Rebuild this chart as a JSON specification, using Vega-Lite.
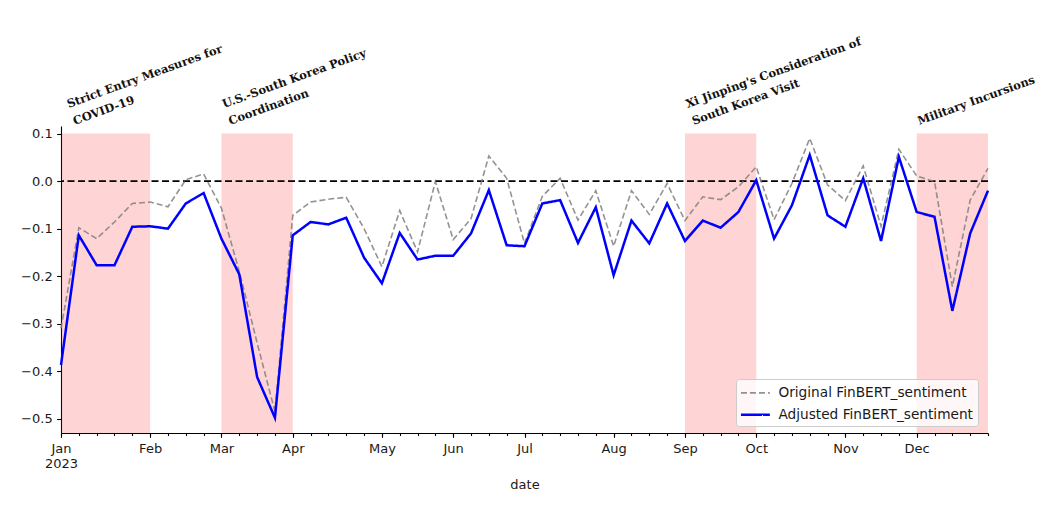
{
  "$schema": "https://vega.github.io/schema/vega-lite/v6.json",
  "width": 927,
  "height": 307,
  "autosize": {"type": "none"},
  "padding": {"left": 61, "top": 126, "right": 60, "bottom": 74},
  "background": "white",
  "config": {
    "view": {"stroke": null},
    "font": "DejaVu Sans",
    "axis": {
      "labelFont": "DejaVu Sans", "labelFontSize": 13, "labelColor": "#1a1a1a",
      "titleFont": "DejaVu Sans", "titleFontSize": 13, "titleFontWeight": "normal", "titleColor": "#1a1a1a",
      "domainColor": "#000000", "tickColor": "#000000", "domainWidth": 1.1, "tickWidth": 1.1, "grid": false
    }
  },
  "datasets": {
    "series": [
      {"date": "2023-01-01", "original": -0.31, "adjusted": -0.387},
      {"date": "2023-01-08", "original": -0.098, "adjusted": -0.114},
      {"date": "2023-01-15", "original": -0.121, "adjusted": -0.177},
      {"date": "2023-01-22", "original": -0.086, "adjusted": -0.177},
      {"date": "2023-01-29", "original": -0.047, "adjusted": -0.096},
      {"date": "2023-02-05", "original": -0.044, "adjusted": -0.095},
      {"date": "2023-02-12", "original": -0.054, "adjusted": -0.1},
      {"date": "2023-02-19", "original": 0.003, "adjusted": -0.047},
      {"date": "2023-02-26", "original": 0.015, "adjusted": -0.025},
      {"date": "2023-03-05", "original": -0.057, "adjusted": -0.121},
      {"date": "2023-03-12", "original": -0.19, "adjusted": -0.196},
      {"date": "2023-03-19", "original": -0.34, "adjusted": -0.412},
      {"date": "2023-03-26", "original": -0.485, "adjusted": -0.498},
      {"date": "2023-04-02", "original": -0.072, "adjusted": -0.114},
      {"date": "2023-04-09", "original": -0.044, "adjusted": -0.086},
      {"date": "2023-04-16", "original": -0.038, "adjusted": -0.091},
      {"date": "2023-04-23", "original": -0.034, "adjusted": -0.077},
      {"date": "2023-04-30", "original": -0.1, "adjusted": -0.161},
      {"date": "2023-05-07", "original": -0.18, "adjusted": -0.215},
      {"date": "2023-05-14", "original": -0.062, "adjusted": -0.109},
      {"date": "2023-05-21", "original": -0.149, "adjusted": -0.165},
      {"date": "2023-05-28", "original": -0.001, "adjusted": -0.157},
      {"date": "2023-06-04", "original": -0.123, "adjusted": -0.157},
      {"date": "2023-06-11", "original": -0.079, "adjusted": -0.11},
      {"date": "2023-06-18", "original": 0.053, "adjusted": -0.019},
      {"date": "2023-06-25", "original": 0.006, "adjusted": -0.135},
      {"date": "2023-07-02", "original": -0.131, "adjusted": -0.137},
      {"date": "2023-07-09", "original": -0.032, "adjusted": -0.047},
      {"date": "2023-07-16", "original": 0.006, "adjusted": -0.04},
      {"date": "2023-07-23", "original": -0.082, "adjusted": -0.13},
      {"date": "2023-07-30", "original": -0.02, "adjusted": -0.055},
      {"date": "2023-08-06", "original": -0.137, "adjusted": -0.198},
      {"date": "2023-08-13", "original": -0.02, "adjusted": -0.083},
      {"date": "2023-08-20", "original": -0.07, "adjusted": -0.131},
      {"date": "2023-08-27", "original": -0.005, "adjusted": -0.047},
      {"date": "2023-09-03", "original": -0.083, "adjusted": -0.126},
      {"date": "2023-09-10", "original": -0.033, "adjusted": -0.083},
      {"date": "2023-09-17", "original": -0.039, "adjusted": -0.098},
      {"date": "2023-09-24", "original": -0.012, "adjusted": -0.065},
      {"date": "2023-10-01", "original": 0.03, "adjusted": 0.002},
      {"date": "2023-10-08", "original": -0.081, "adjusted": -0.121},
      {"date": "2023-10-15", "original": -0.005, "adjusted": -0.051},
      {"date": "2023-10-22", "original": 0.09, "adjusted": 0.055},
      {"date": "2023-10-29", "original": -0.008, "adjusted": -0.072},
      {"date": "2023-11-05", "original": -0.041, "adjusted": -0.096},
      {"date": "2023-11-12", "original": 0.032, "adjusted": 0.006},
      {"date": "2023-11-19", "original": -0.095, "adjusted": -0.126},
      {"date": "2023-11-26", "original": 0.067, "adjusted": 0.051},
      {"date": "2023-12-03", "original": 0.011, "adjusted": -0.065},
      {"date": "2023-12-10", "original": -0.001, "adjusted": -0.075},
      {"date": "2023-12-17", "original": -0.222, "adjusted": -0.273},
      {"date": "2023-12-24", "original": -0.04, "adjusted": -0.11},
      {"date": "2023-12-31", "original": 0.027, "adjusted": -0.02}
    ],
    "events": [
      {"start": "2023-01-01", "end": "2023-02-05", "label_date": "2023-01-04", "line1": "Strict Entry Measures for", "line2": "COVID-19"},
      {"start": "2023-03-05", "end": "2023-04-02", "label_date": "2023-03-06", "line1": "U.S.-South Korea Policy", "line2": "Coordination"},
      {"start": "2023-09-03", "end": "2023-10-01", "label_date": "2023-09-04", "line1": "Xi Jinping's Consideration of", "line2": "South Korea Visit"},
      {"start": "2023-12-03", "end": "2023-12-31", "label_date": "2023-12-04", "line1": "Military Incursions", "line2": null}
    ]
  },
  "layer": [
    {
      "data": {"name": "events"},
      "mark": {"type": "rect", "color": "#ff0000", "opacity": 0.17},
      "encoding": {
        "x": {
          "field": "start", "type": "temporal",
          "scale": {"type": "utc", "domain": [{"year": 2023, "month": 1, "date": 1, "utc": true}, {"year": 2023, "month": 12, "date": 31, "utc": true}], "nice": false},
          "axis": {"orient": "bottom", "tickCount": {"interval": "week", "step": 1}, "labels": false, "domain": false, "tickSize": 2.5, "title": null, "grid": false}
        },
        "x2": {"field": "end"},
        "y": {
          "datum": 0.1, "type": "quantitative",
          "scale": {"domain": [-0.53, 0.116], "nice": false, "zero": false},
          "axis": {
            "values": [-0.5, -0.4, -0.3, -0.2, -0.1, 0, 0.1],
            "labelExpr": "replace(format(datum.value, '.1f'), '-', '\u2212')",
            "tickSize": 4.3, "labelPadding": 4.5, "title": null
          }
        },
        "y2": {"datum": -0.53}
      }
    },
    {
      "data": {"values": [{}]},
      "mark": {"type": "rule", "color": "#000000", "strokeDash": [7, 3.5], "strokeWidth": 1.8},
      "encoding": {
        "y": {"datum": 0, "type": "quantitative", "title": null}
      }
    },
    {
      "data": {"name": "series"},
      "transform": [{"fold": ["original", "adjusted"], "as": ["series", "value"]}],
      "mark": {"type": "line"},
      "encoding": {
        "x": {
          "field": "date", "type": "temporal",
          "axis": {
            "orient": "bottom",
            "values": [
              {"year": 2023, "month": 1, "date": 1, "utc": true},
              {"year": 2023, "month": 2, "date": 5, "utc": true},
              {"year": 2023, "month": 3, "date": 5, "utc": true},
              {"year": 2023, "month": 4, "date": 2, "utc": true},
              {"year": 2023, "month": 5, "date": 7, "utc": true},
              {"year": 2023, "month": 6, "date": 4, "utc": true},
              {"year": 2023, "month": 7, "date": 2, "utc": true},
              {"year": 2023, "month": 8, "date": 6, "utc": true},
              {"year": 2023, "month": 9, "date": 3, "utc": true},
              {"year": 2023, "month": 10, "date": 1, "utc": true},
              {"year": 2023, "month": 11, "date": 5, "utc": true},
              {"year": 2023, "month": 12, "date": 3, "utc": true}
            ],
            "labelExpr": "utcFormat(datum.value, '%b') == 'Jan' ? ['Jan', '2023'] : utcFormat(datum.value, '%b')",
            "tickSize": 4.3, "labelPadding": 5, "labelLineHeight": 15, "labelFlush": false, "labelOverlap": false,
            "title": "date", "titlePadding": 8
          }
        },
        "y": {"field": "value", "type": "quantitative", "title": null},
        "color": {
          "field": "series", "type": "nominal",
          "scale": {"domain": ["original", "adjusted"], "range": ["#808080", "#0000ff"]},
          "legend": {
            "orient": "none", "legendX": 675, "legendY": 253, "title": null,
            "labelExpr": "datum.label == 'original' ? 'Original FinBERT_sentiment' : 'Adjusted FinBERT_sentiment'",
            "labelFont": "DejaVu Sans", "labelFontSize": 13.7, "labelColor": "#1a1a1a", "labelLimit": 0,
            "symbolType": "M-1.7,0H1.7", "symbolSize": 289, "symbolOffset": 5, "padding": 4.4, "rowPadding": 4.3, "labelOffset": 13,
            "fillColor": "rgba(255,255,255,0.8)", "strokeColor": "#cccccc", "cornerRadius": 3
          }
        },
        "strokeDash": {
          "field": "series", "type": "nominal",
          "scale": {"domain": ["original", "adjusted"], "range": [[6, 3], [1, 0]]}
        },
        "strokeWidth": {
          "field": "series", "type": "nominal",
          "scale": {"domain": ["original", "adjusted"], "range": [1.6, 2.5]}
        },
        "opacity": {
          "field": "series", "type": "nominal",
          "scale": {"domain": ["original", "adjusted"], "range": [0.85, 1]}
        }
      }
    },
    {
      "data": {"name": "events"},
      "transform": [{"filter": "isValid(datum.line2)"}],
      "mark": {"type": "text", "angle": 340, "align": "left", "baseline": "alphabetic", "font": "DejaVu Serif", "fontSize": 11.5, "fontWeight": "bold", "color": "#111111"},
      "encoding": {
        "x": {"field": "label_date", "type": "temporal", "axis": null},
        "y": {"datum": 0.1537, "type": "quantitative", "title": null},
        "text": {"field": "line1"}
      }
    },
    {
      "data": {"name": "events"},
      "transform": [{"filter": "isValid(datum.line2)"}],
      "mark": {"type": "text", "angle": 340, "align": "left", "baseline": "alphabetic", "dy": 18, "font": "DejaVu Serif", "fontSize": 11.5, "fontWeight": "bold", "color": "#111111"},
      "encoding": {
        "x": {"field": "label_date", "type": "temporal", "axis": null},
        "y": {"datum": 0.1537, "type": "quantitative", "title": null},
        "text": {"field": "line2"}
      }
    },
    {
      "data": {"name": "events"},
      "transform": [{"filter": "!isValid(datum.line2)"}],
      "mark": {"type": "text", "angle": 340, "align": "left", "baseline": "alphabetic", "font": "DejaVu Serif", "fontSize": 11.5, "fontWeight": "bold", "color": "#111111"},
      "encoding": {
        "x": {"field": "label_date", "type": "temporal", "axis": null},
        "y": {"datum": 0.118, "type": "quantitative", "title": null},
        "text": {"field": "line1"}
      }
    }
  ],
  "resolve": {"axis": {"x": "independent"}}
}
